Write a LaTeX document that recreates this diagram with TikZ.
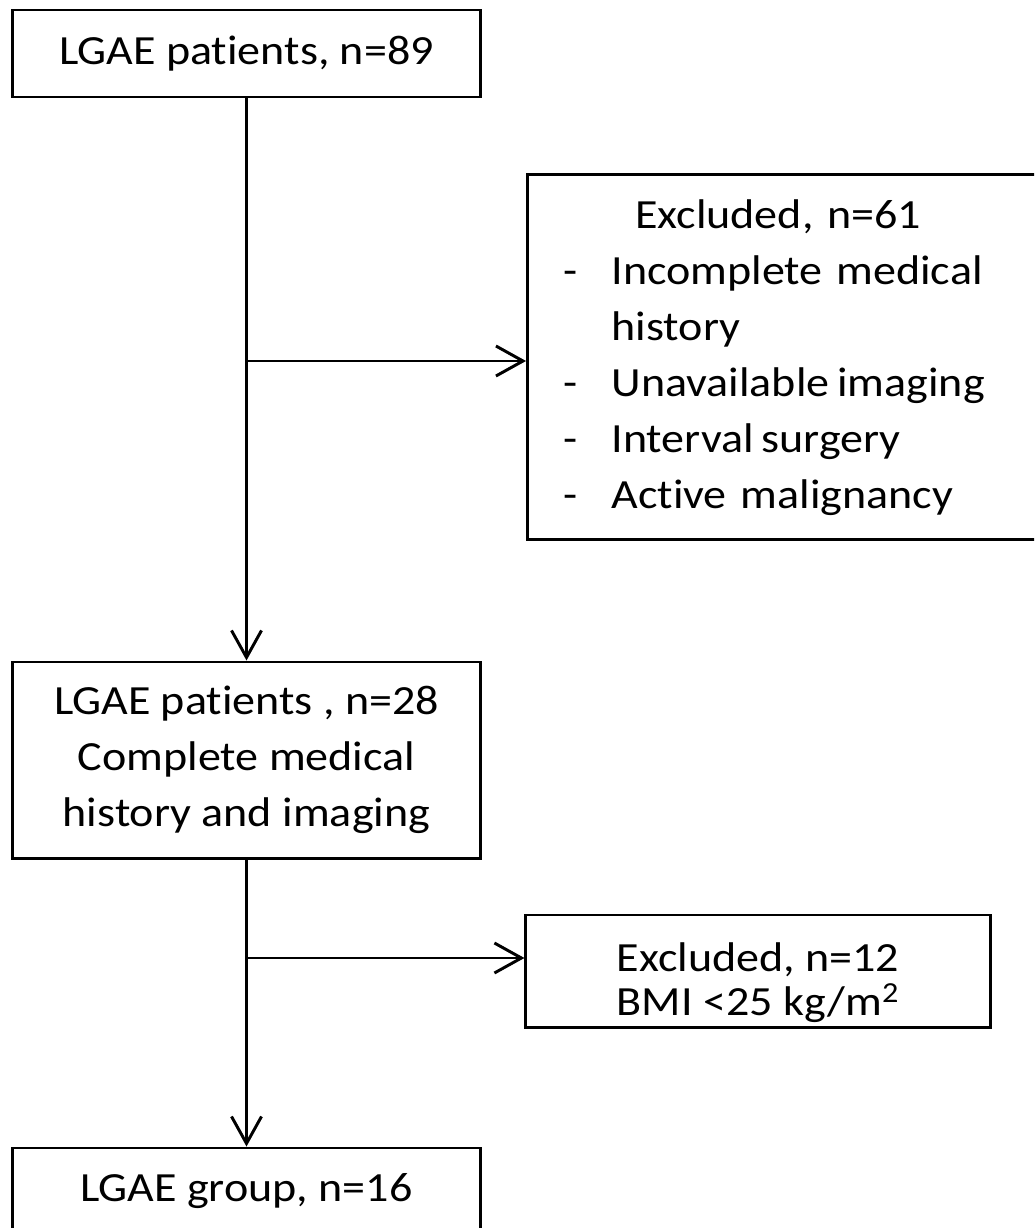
\documentclass[tikz,border=0pt]{standalone}
\usepackage{fontspec}
\setmainfont[Ligatures=NoCommon, FakeStretch=1.11]{Carlito}
\usetikzlibrary{arrows.meta}

\begin{document}
\begin{tikzpicture}[x=0.025cm, y=-0.025cm, line width=2.1pt,
   flowbox/.style = {draw, rectangle, inner sep=0pt, align=center,
      font=\fontsize{29.5}{39.8}\selectfont},
   flowarrow/.style = {-{Straight Barb[length=0.675cm, width=0.75cm]}}]
   \useasboundingbox (0,0) rectangle (1034,1228);
   \clip (0,0) rectangle (1034,1228);
   % boxes
   \node (start) [flowbox, minimum width=11.675cm, minimum height=2.175cm]
      at (246.5,53.5) {LGAE patients, n=89};
   \node (excl) [flowbox, anchor=north west, align=left, inner xsep=0.9cm,
      text width=11.55cm, minimum width=13.35cm, minimum height=9.125cm]
      at (526,173) {\begin{tabular}{@{}p{1.2cm}@{}l@{}}
         \multicolumn{2}{@{}c@{}}{\hspace{0.2cm}Excluded, n=61}\\
         - & Incomplete medical\\
           & history\\
         - & Unavailable\hspace{-0.15cm} imaging\\
         - & Interval\hspace{-0.15cm} surgery\\
         - & Active malignancy
      \end{tabular}};
   \node (full) [flowbox, minimum width=11.675cm, minimum height=4.9cm]
      at (246.5,760) {LGAE patients , n=28\\ Complete medical\\ history and imaging};
   \node (bmi) [flowbox, minimum width=11.6cm, minimum height=2.8cm,
      font=\fontsize{29.5}{31.3}\selectfont]
      at (758,971) {\rule{0pt}{1.3cm}Excluded, n=12\\ BMI <25 kg/m\textsuperscript{2}};
   \node (final) [flowbox, minimum width=11.675cm, minimum height=2.175cm]
      at (246.5,1191.5) {LGAE group, n=16};
   % connectors
   \coordinate (branch1) at (246.5,361);
   \coordinate (branch2) at (246.5,958);
   \draw[flowarrow] (start) -- (full);
   \draw[flowarrow] (branch1) -- (branch1 -| excl.west);
   \draw[flowarrow] (full) -- (final);
   \draw[flowarrow] (branch2) -- (branch2 -| bmi.west);
\end{tikzpicture}
\end{document}
